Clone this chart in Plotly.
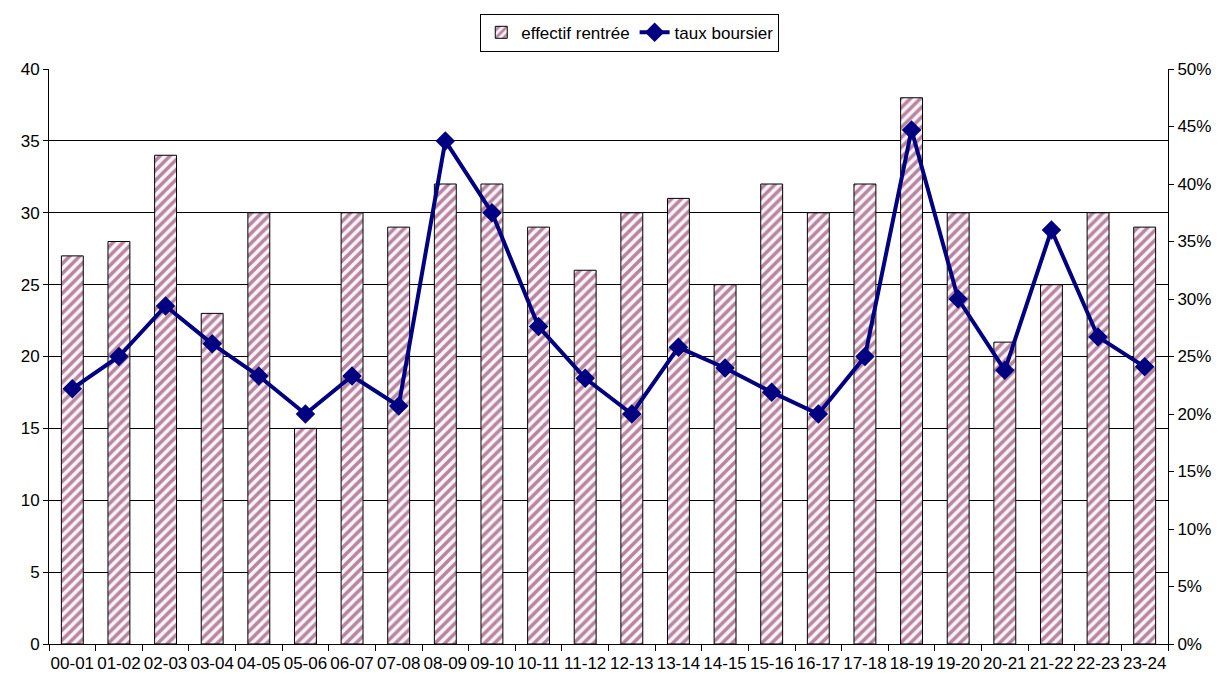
import plotly.graph_objects as go

years = ["00-01", "01-02", "02-03", "03-04", "04-05", "05-06", "06-07", "07-08",
         "08-09", "09-10", "10-11", "11-12", "12-13", "13-14", "14-15", "15-16",
         "16-17", "17-18", "18-19", "19-20", "20-21", "21-22", "22-23", "23-24"]
effectif = [27, 28, 34, 23, 30, 15, 30, 29, 32, 32, 29, 26, 30, 31, 25, 32,
            30, 32, 38, 30, 21, 25, 30, 29]
taux = [0.222, 0.25, 0.294, 0.261, 0.233, 0.20, 0.233, 0.207, 0.4375, 0.375,
        0.276, 0.231, 0.20, 0.258, 0.24, 0.219, 0.20, 0.25, 0.447, 0.30,
        0.238, 0.36, 0.267, 0.241]

font = "Liberation Sans, Arial, sans-serif"

fig = go.Figure()
fig.add_trace(go.Bar(
    x=years, y=effectif, name="effectif rentrée", width=0.47,
    marker=dict(color="#fdf3f8",
                line=dict(color="#000000", width=1),
                pattern=dict(shape="/", fgcolor="#6e1a48", bgcolor="#fdf3f8",
                             size=7, solidity=0.5)),
))
fig.add_trace(go.Scatter(
    x=years, y=taux, name="taux boursier", yaxis="y2", mode="lines+markers",
    line=dict(color="#000080", width=4),
    marker=dict(symbol="diamond", size=15, color="#000080"),
))

# page body adds an 8px offset, margins compensate for it
fig.update_layout(
    width=1223, height=674,
    paper_bgcolor="white", plot_bgcolor="white",
    font=dict(family=font, size=17, color="#000000"),
    margin=dict(l=41, r=63, t=61, b=38, autoexpand=False),
    showlegend=True,
    legend=dict(orientation="h", x=0.519, xanchor="center", y=1.03, yanchor="bottom",
                bordercolor="#000000", borderwidth=1, font=dict(size=17),
                itemwidth=30, tracegroupgap=0),
    xaxis=dict(type="category", range=[-0.5, len(years) - 0.5],
               showline=True, linecolor="#000000", linewidth=1,
               ticks="outside", tickson="boundaries", ticklen=6, tickangle=0,
               ticklabelstandoff=4, tickcolor="#000000", showgrid=False),
    yaxis=dict(range=[0, 40], dtick=5, showline=True, linecolor="#000000",
               linewidth=1, ticks="outside", ticklen=5, tickcolor="#000000",
               showgrid=True, gridcolor="#000000", gridwidth=1, zeroline=False),
    yaxis2=dict(range=[0, 0.5], dtick=0.05, tickformat=".0%", overlaying="y",
                side="right", showline=True, linecolor="#000000", linewidth=1,
                ticks="outside", ticklen=5, tickcolor="#000000",
                showgrid=False, zeroline=False),
)

fig.write_html("out.html")
